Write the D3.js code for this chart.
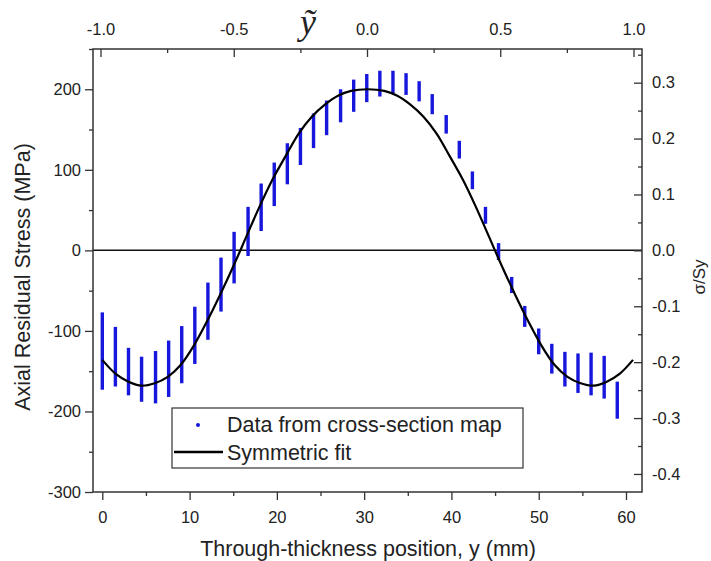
<!DOCTYPE html>
<html>
<head>
<meta charset="utf-8">
<script src="https://cdn.jsdelivr.net/npm/d3@7"></script>
<style>
  body { margin: 0; background: #fff; }
  svg text { font-family: "Liberation Sans", Arial, sans-serif; fill: #222; }
</style>
</head>
<body>
<div id="chart"></div>
<script>
// measured data columns (position in mm, top / bottom of each column in MPa)
const barX = [0, 1.5, 3.0, 4.5, 6.1, 7.6, 9.1, 10.6, 12.1, 13.6, 15.1, 16.7, 18.2, 19.7, 21.2, 22.7, 24.2, 25.7, 27.3, 28.8,
  30.3, 31.8, 33.3, 34.8, 36.3, 37.8, 39.4, 40.9, 42.4, 43.9, 45.4, 46.9, 48.4, 50.0, 51.5, 53.0, 54.5, 56.0, 57.5, 59.0]
const barHi = [-77, -95, -121, -132, -125, -112, -94, -70, -40, -9, 23, 54, 83, 109, 133, 152, 170, 186, 200, 212,
  219, 223, 223, 220, 210, 194, 168, 136, 98, 54, 9, -33, -69, -97, -116, -126, -128, -127, -131, -163]
const barLo = [-173, -169, -180, -188, -190, -182, -165, -141, -111, -76, -41, -7, 24, 55, 82, 106, 127, 143, 159, 172,
  184, 191, 195, 193, 185, 169, 145, 114, 76, 33, -12, -53, -95, -129, -153, -169, -177, -180, -184, -209]

// symmetric fit
const fitX = [0, 1.5, 3.0, 4.5, 6.0, 7.5, 9.0, 10.5, 12.0, 13.5, 15.0, 16.5, 18.0, 19.5, 21.0, 22.5, 24.0, 25.5, 27.0, 28.5,
  30.4, 32.3, 33.8, 35.3, 36.8, 38.3, 39.8, 41.3, 42.8, 44.3, 45.8, 47.3, 48.8, 50.3, 51.8, 53.3, 54.8, 56.3, 57.8, 59.3, 60.8]
const fitY = [-136, -153, -163, -168, -165, -157, -142, -118, -88, -55, -20, 17, 54, 88, 117, 145, 166, 181, 192, 198,
  200, 198, 192, 181, 166, 145, 117, 88, 54, 17, -20, -55, -88, -118, -142, -157, -165, -168, -163, -153, -136]

const xTicks = [0, 10, 20, 30, 40, 50, 60]
const yTicks = [-300, -200, -100, 0, 100, 200]
const topTicks = [-1.0, -0.5, 0.0, 0.5, 1.0]
const rightTicks = [-0.4, -0.3, -0.2, -0.1, 0.0, 0.1, 0.2, 0.3]
const yieldStress = 694

const W = 711, H = 561
const L = 93, R = 642, T = 49, B = 492
const blue = '#1616dc'
const hyphen = f => d => f(d).replace('\u2212', '-')

const svg = d3.select('#chart').append('svg')
  .attr('width', W).attr('height', H)

svg.append('rect').attr('width', W).attr('height', H).attr('fill', '#fff')

const x = d3.scaleLinear().domain([0, 60]).range([102.3, 626])
const xTop = d3.scaleLinear().domain([-1, 1]).range([100.5, 633.5])
const y = d3.scaleLinear().domain([-300, 250]).range([B, T])
const yR = d3.scaleLinear().domain([-300 / yieldStress, 250 / yieldStress]).range([B, T])

const plot = svg.append('g')

// zero line
plot.append('line')
  .attr('x1', L).attr('x2', R)
  .attr('y1', y(0)).attr('y2', y(0))
  .attr('stroke', '#111').attr('stroke-width', 1.5)

// data columns
plot.selectAll('.bar')
  .data(barX)
  .enter()
  .append('line')
  .attr('class', 'bar')
  .attr('x1', d => x(d)).attr('x2', d => x(d))
  .attr('y1', (d, i) => y(barHi[i])).attr('y2', (d, i) => y(barLo[i]))
  .attr('stroke', blue).attr('stroke-width', 3.4)

// fit line
const line = d3.line()
  .x(d => x(d[0]))
  .y(d => y(d[1]))
  .curve(d3.curveCatmullRom)
plot.append('path')
  .datum(fitX.map((d, i) => [d, fitY[i]]))
  .attr('d', line)
  .attr('fill', 'none')
  .attr('stroke', '#000').attr('stroke-width', 2.2)

// frame
svg.append('rect')
  .attr('x', L).attr('y', T).attr('width', R - L).attr('height', B - T)
  .attr('fill', 'none').attr('stroke', '#333').attr('stroke-width', 1.5)

function styleAxis(g) {
  g.select('.domain').remove()
  g.selectAll('line').attr('stroke', '#333').attr('stroke-width', 1.3)
  g.selectAll('text').attr('font-size', 16.5).attr('fill', '#222')
}

// bottom
svg.append('g').attr('transform', `translate(0,${B})`)
  .call(d3.axisBottom(x).tickValues(d3.range(5, 60, 10)).tickSize(4).tickFormat(''))
  .call(styleAxis)
svg.append('g').attr('transform', `translate(0,${B})`)
  .call(d3.axisBottom(x).tickValues(xTicks).tickSize(8).tickPadding(11).tickFormat(d3.format('d')))
  .call(styleAxis)

// top
svg.append('g').attr('transform', `translate(0,${T})`)
  .call(d3.axisTop(xTop).tickValues([-0.75, -0.25, 0.25, 0.75]).tickSize(-4).tickFormat(''))
  .call(styleAxis)
svg.append('g').attr('transform', `translate(0,${T})`)
  .call(d3.axisTop(xTop).tickValues(topTicks).tickSize(-8).tickPadding(14).tickFormat(hyphen(d3.format('.1f'))))
  .call(styleAxis)

// left
svg.append('g').attr('transform', `translate(${L},0)`)
  .call(d3.axisLeft(y).tickValues([-250, -150, -50, 50, 150, 250]).tickSize(4).tickFormat(''))
  .call(styleAxis)
svg.append('g').attr('transform', `translate(${L},0)`)
  .call(d3.axisLeft(y).tickValues(yTicks).tickSize(8).tickPadding(4).tickFormat(hyphen(d3.format('d'))))
  .call(styleAxis)

// right
svg.append('g').attr('transform', `translate(${R},0)`)
  .call(d3.axisRight(yR).tickValues([-0.35, -0.25, -0.15, -0.05, 0.05, 0.15, 0.25, 0.35]).tickSize(-4).tickFormat(''))
  .call(styleAxis)
svg.append('g').attr('transform', `translate(${R},0)`)
  .call(d3.axisRight(yR).tickValues(rightTicks).tickSize(-8).tickPadding(10).tickFormat(hyphen(d3.format('.1f'))))
  .call(styleAxis)

// titles
svg.append('text')
  .attr('x', 368).attr('y', 556)
  .attr('text-anchor', 'middle').attr('font-size', 21.5)
  .text('Through-thickness position, y (mm)')

svg.append('text')
  .attr('transform', 'translate(30,277) rotate(-90)')
  .attr('text-anchor', 'middle').attr('font-size', 21.5)
  .text('Axial Residual Stress (MPa)')

svg.append('text')
  .attr('transform', 'translate(705,277) rotate(-90)')
  .attr('text-anchor', 'middle').attr('font-size', 17)
  .text('σ/Sy')

svg.append('text')
  .attr('x', 308).attr('y', 34)
  .attr('text-anchor', 'middle').attr('font-size', 36)
  .style('font-family', '"Liberation Serif", "DejaVu Serif", serif')
  .style('font-style', 'italic')
  .text('ỹ')

// legend
const lg = svg.append('g')
lg.append('rect')
  .attr('x', 172).attr('y', 408).attr('width', 351).attr('height', 60)
  .attr('fill', '#fff').attr('stroke', '#333').attr('stroke-width', 1.2)
lg.append('circle')
  .attr('cx', 198).attr('cy', 425).attr('r', 2)
  .attr('fill', blue)
lg.append('text')
  .attr('x', 227).attr('y', 432).attr('font-size', 21.5)
  .text('Data from cross-section map')
lg.append('line')
  .attr('x1', 174).attr('x2', 223).attr('y1', 452).attr('y2', 452)
  .attr('stroke', '#000').attr('stroke-width', 2.4)
lg.append('text')
  .attr('x', 227).attr('y', 460).attr('font-size', 21.5)
  .text('Symmetric fit')
</script>
</body>
</html>
